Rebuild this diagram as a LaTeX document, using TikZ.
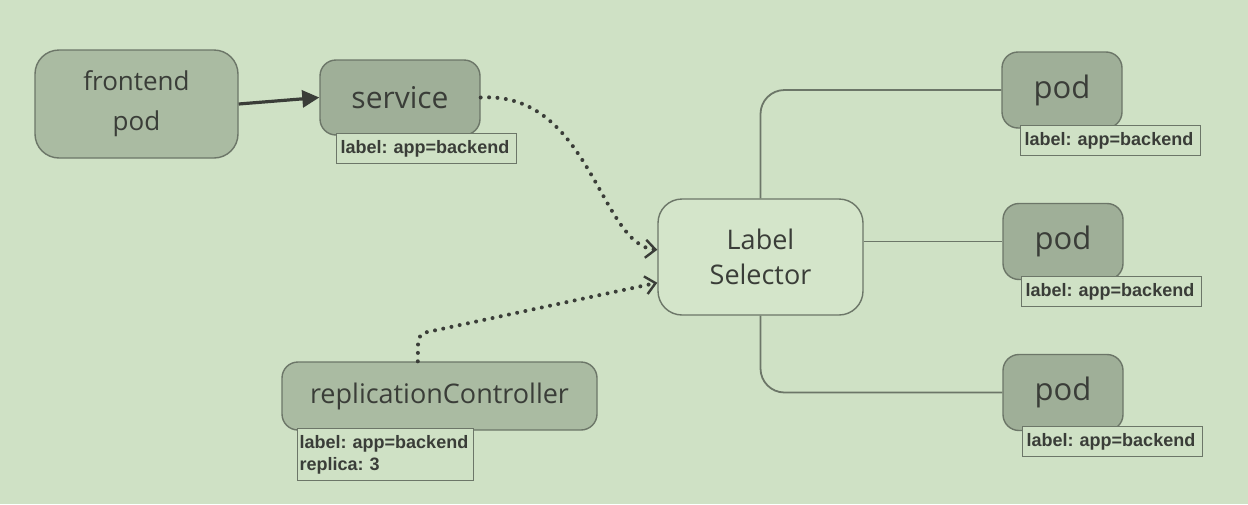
\documentclass[tikz,border=0pt]{standalone}
\usepackage{fontspec}
\setmainfont{Open Sans}
\newfontfamily\lblfont{Liberation Sans}
\usetikzlibrary{arrows.meta}
\definecolor{bg}{HTML}{CFE1C5}
\definecolor{selfill}{HTML}{D4E5CA}
\definecolor{boxfill}{HTML}{AABBA2}
\definecolor{podfill}{HTML}{9FAF98}
\definecolor{edge}{HTML}{6C7668}
\definecolor{ink}{HTML}{3A3D38}
\frenchspacing

\begin{document}
\begin{tikzpicture}[x=0.5pt,y=-0.5pt,
  box/.style={draw=edge,line width=0.7pt,fill=boxfill,text=ink,align=center,inner sep=0pt,rounded corners=8pt},
  podbox/.style={box,fill=podfill,minimum width=60pt,minimum height=38pt,font=\fontsize{15.5}{18}\selectfont},
  tag/.style={draw=edge,line width=0.7pt,fill=bg,anchor=north west,inner sep=2pt,text width=86pt,minimum height=15pt,align=left,text=ink,font=\lblfont\bfseries\fontsize{9}{11}\selectfont},
  wire/.style={draw=edge,line width=0.9pt,rounded corners=12pt},
  dotline/.style={draw=ink,line width=2pt,line cap=round,dash pattern=on 0pt off 4.2pt,-{Straight Barb[length=5pt,width=9pt,line width=1.2pt]}},
  push/.style={draw=ink,line width=1.6pt,-{Triangle[length=8.5pt,width=8.5pt]}}]
\fill[bg] (0,0) rectangle (1248,504);
\useasboundingbox (0,0) rectangle (1248,504);

\node[box,rounded corners=12pt,minimum width=101.5pt,minimum height=54pt,font=\fontsize{13}{20}\selectfont] (front) at (136.5,104) {frontend\\pod};
\node[box,fill=podfill,minimum width=80pt,minimum height=37.5pt,font=\fontsize{15}{18}\selectfont] (service) at (400,97.5) {service};
\node[box,fill=selfill,rounded corners=12pt,minimum width=102.5pt,minimum height=58pt,font=\fontsize{13.5}{17.5}\selectfont] (sel) at (760.5,257) {Label\\Selector};
\node[box,minimum width=157.5pt,minimum height=34pt,font=\fontsize{13.5}{16}\selectfont] (rc) at (439.5,396) {replicationController};
\node[podbox] (pod1) at (1062,90) {pod};
\node[podbox] (pod2) at (1063,241.5) {pod};
\node[podbox] (pod3) at (1063,392.5) {pod};

\node[tag] (servicetag) at (336,133) {label: app=backend};
\node[tag,inner sep=1pt,text width=86pt,minimum height=26pt] (rctag) at (297,428) {label: app=backend\\replica: 3};
\node[tag] (pod1tag) at (1020,125) {label: app=backend};
\node[tag] (pod2tag) at (1021,276) {label: app=backend};
\node[tag] (pod3tag) at (1022,426) {label: app=backend};

\draw[push] (front.east) -- (service.west);
\draw[dotline] (service.east) .. controls (590,91) and (600,245) .. (sel.176);
\draw[dotline] (rc.122) -- (418,345) .. controls (418,334) and (422,333) .. (432,331) -- (sel.194);

\draw[wire] (sel.north) |- (pod1.west);
\draw[wire] (sel.east |- pod2.west) -- (pod2.west);
\draw[wire] (sel.south) |- (pod3.west);
\end{tikzpicture}
\end{document}
